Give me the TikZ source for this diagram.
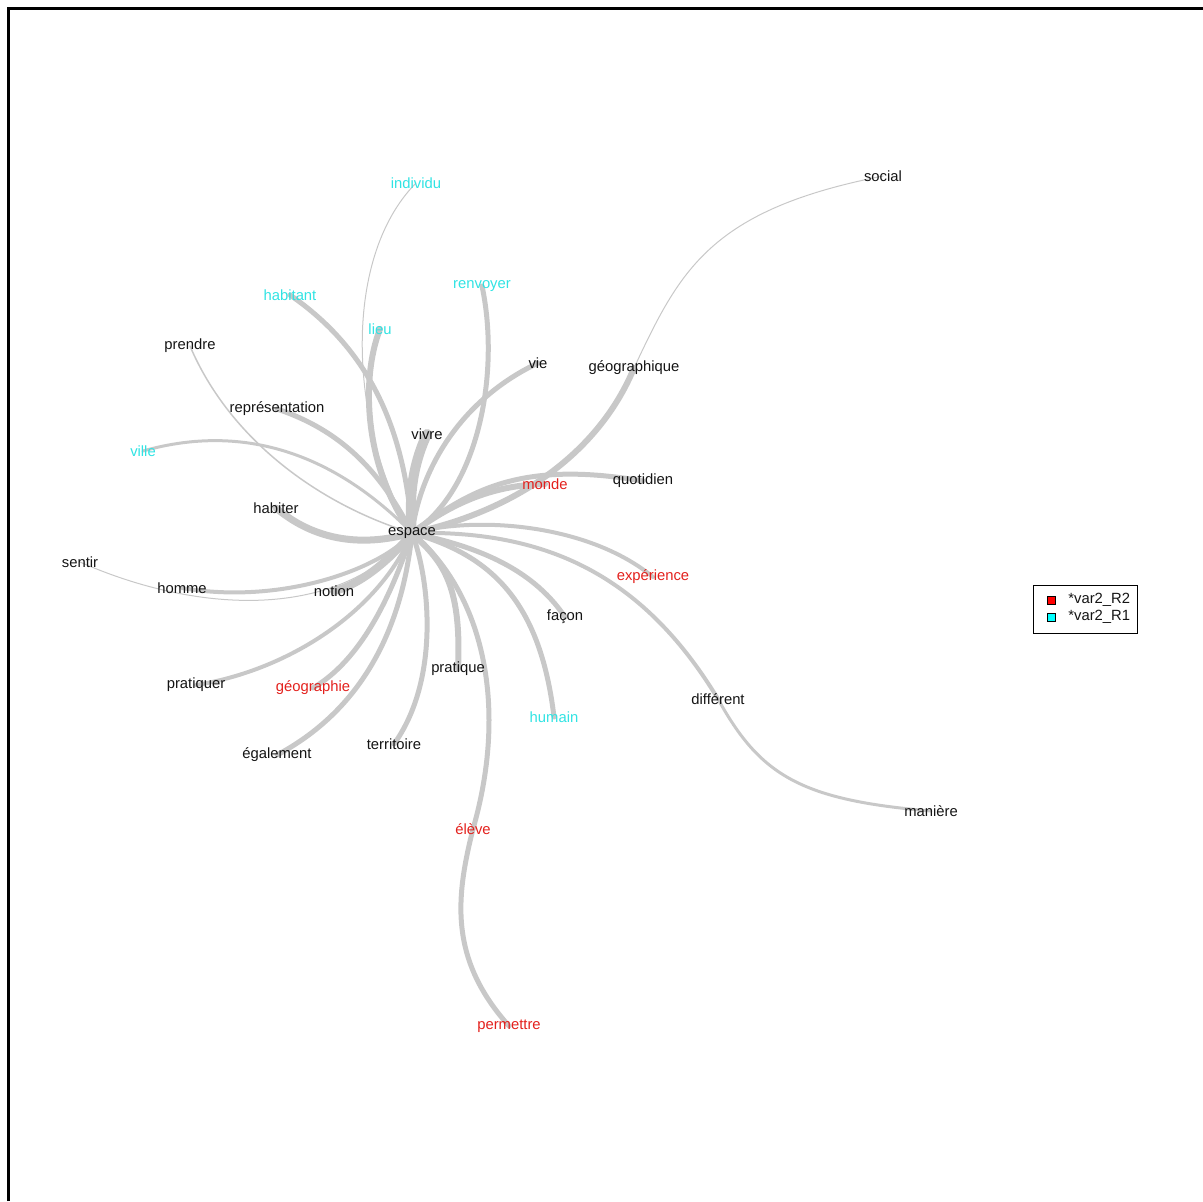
\documentclass[tikz,border=0pt]{standalone}
\usepackage{fontspec}
\setmainfont{Liberation Sans}
\usepackage{xcolor}
\definecolor{textdark}{HTML}{141414}
\definecolor{wordred}{HTML}{E3201C}
\definecolor{wordcyan}{HTML}{30E3E3}
\definecolor{edgegray}{HTML}{C8C8C8}
\definecolor{keyred}{HTML}{FF0000}
\definecolor{keycyan}{HTML}{00FFFF}
\usepackage{tikz}
\usetikzlibrary{backgrounds}

\begin{document}
\begin{tikzpicture}[x=0.5pt, y=-0.5pt,
    word/.style={font=\fontsize{7.4}{8}\selectfont, text=textdark, inner sep=0pt},
    wred/.style={word, text=wordred},
    wcyan/.style={word, text=wordcyan},
    edge/.style={draw=edgegray, line width=#1, line cap=round},
    edge/.default=2.5pt,
    keybox/.style={draw=black, line width=0.5pt, minimum size=4pt, inner sep=0pt}]
        \useasboundingbox (0,0) rectangle (1203,1201);
        \draw[line width=1.5pt] (8.5,1201) -- (8.5,8.5) -- (1203,8.5);
        % words
        \node[word] (espace) at (412,533) {espace};
        \node[wcyan] (individu) at (416,183) {individu};
        \node[word] (social) at (883,176) {social};
        \node[wcyan] (habitant) at (290,295) {habitant};
        \node[wcyan] (renvoyer) at (482,286) {renvoyer};
        \node[wcyan] (lieu) at (380,329) {lieu};
        \node[word] (prendre) at (190,346) {prendre};
        \node[word] (vie) at (538,363) {vie};
        \node[word] (geographique) at (634,368) {géographique};
        \node[word] (representation) at (277,409) {représentation};
        \node[word] (vivre) at (427,434) {vivre};
        \node[wcyan] (ville) at (143,451) {ville};
        \node[wred] (monde) at (545,484) {monde};
        \node[word] (quotidien) at (643,481) {quotidien};
        \node[word] (habiter) at (276,508) {habiter};
        \node[word] (sentir) at (80,562) {sentir};
        \node[word] (homme) at (182,588) {homme};
        \node[word] (notion) at (334,591) {notion};
        \node[wred] (experience) at (653,577) {expérience};
        \node[word] (facon) at (565,617) {façon};
        \node[word] (pratiquer) at (196,685) {pratiquer};
        \node[wred] (geographie) at (313,688) {géographie};
        \node[word] (pratique) at (458,669) {pratique};
        \node[wcyan] (humain) at (554,717) {humain};
        \node[word] (different) at (718,699) {différent};
        \node[word] (territoire) at (394,744) {territoire};
        \node[word] (egalement) at (277,755) {également};
        \node[word] (maniere) at (931,811) {manière};
        \node[wred] (eleve) at (473,829) {élève};
        \node[wred] (permettre) at (509,1026) {permettre};
        % links
        \begin{scope}[on background layer]
        \draw[edge=0.5pt] (espace.center) .. controls (350,430) and (340,260) .. (individu.center);
        \draw[edge] (espace.center) .. controls (405,430) and (370,350) .. (habitant.center);
        \draw[edge=3pt] (espace.center) .. controls (365,470) and (360,380) .. (lieu.center);
        \draw[edge] (espace.center) .. controls (480,490) and (500,370) .. (renvoyer.center);
        \draw[edge] (espace.center) .. controls (420,470) and (460,400) .. (vie.center);
        \draw[edge=5pt] (espace.center) .. controls (408,490) and (415,460) .. (vivre.center);
        \draw[edge=3pt] (espace.center) .. controls (520,510) and (600,450) .. (geographique.center);
        \draw[edge=0.5pt] (geographique.center) .. controls (680,270) and (710,210) .. (social.center);
        \draw[edge] (espace.center) .. controls (470,490) and (520,460) .. (quotidien.center);
        \draw[edge=3pt] (espace.center) .. controls (450,505) and (490,485) .. (monde.center);
        \draw[edge=2pt] (espace.center) .. controls (480,515) and (590,525) .. (experience.center);
        \draw[edge=2pt] (espace.center) .. controls (540,530) and (640,570) .. (different.center);
        \draw[edge=1.5pt] (different.center) .. controls (760,775) and (800,800) .. (maniere.center);
        \draw[edge] (espace.center) .. controls (470,545) and (530,565) .. (facon.center);
        \draw[edge] (espace.center) .. controls (490,555) and (540,600) .. (humain.center);
        \draw[edge=3pt] (espace.center) .. controls (440,560) and (462,580) .. (pratique.center);
        \draw[edge] (espace.center) .. controls (480,590) and (510,700) .. (eleve.center);
        \draw[edge] (eleve.center) .. controls (455,900) and (450,960) .. (permettre.center);
        \draw[edge] (espace.center) .. controls (430,580) and (440,680) .. (territoire.center);
        \draw[edge] (espace.center) .. controls (405,600) and (380,700) .. (egalement.center);
        \draw[edge] (espace.center) .. controls (390,600) and (360,660) .. (geographie.center);
        \draw[edge=2pt] (espace.center) .. controls (380,610) and (290,670) .. (pratiquer.center);
        \draw[edge=4pt] (espace.center) .. controls (390,560) and (360,585) .. (notion.center);
        \draw[edge=2pt] (espace.center) .. controls (380,570) and (280,605) .. (homme.center);
        \draw[edge=0.5pt] (espace.center) .. controls (340,620) and (200,615) .. (sentir.center);
        \draw[edge=3.5pt] (espace.center) .. controls (370,545) and (320,545) .. (habiter.center);
        \draw[edge=1.5pt] (espace.center) .. controls (360,480) and (270,415) .. (ville.center);
        \draw[edge] (espace.center) .. controls (380,470) and (340,430) .. (representation.center);
        \draw[edge=0.75pt] (espace.center) .. controls (320,505) and (230,440) .. (prendre.center);
        \end{scope}
        % key
        \draw[line width=0.5pt] (1033,585) rectangle (1137,633);
        \node[keybox, fill=keyred] (keyr2) at (1051,600) {};
        \node[keybox, fill=keycyan] (keyr1) at (1051,617) {};
        \node[word, anchor=west] (keyr2text) at (1068,600) {*var2\_R2};
        \node[word, anchor=west] (keyr1text) at (1068,617) {*var2\_R1};
      \end{tikzpicture}
\end{document}
